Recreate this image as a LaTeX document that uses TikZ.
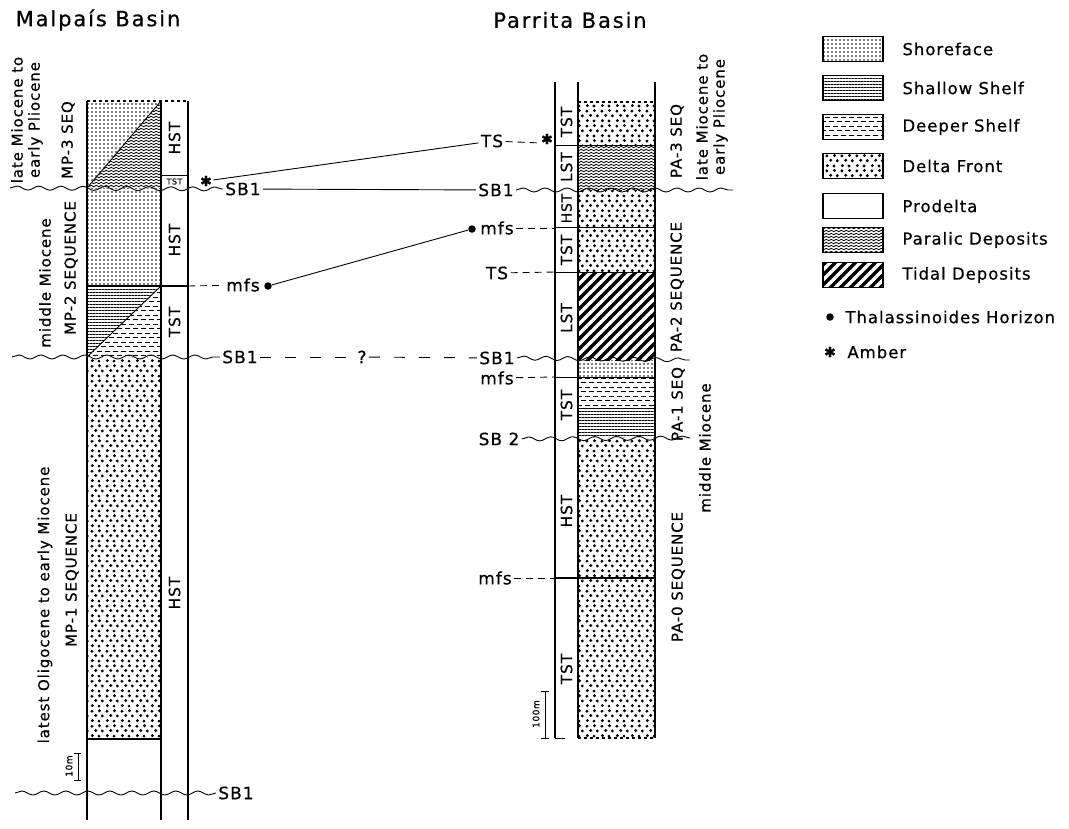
\documentclass[tikz,border=0pt]{standalone}
\usepackage{fontspec}
\setmainfont{DejaVu Sans}[LetterSpace=6, FakeBold=0.6]
\newfontfamily\ttlfont{DejaVu Sans}[LetterSpace=9, FakeBold=0.6]
\usetikzlibrary{patterns.meta,decorations.pathmorphing}

\tikzdeclarepattern{
	name=shoreface,
	type=uncolored,
	bounding box={(-1pt,-1pt) and (3pt,3pt)},
	tile size={(4pt,4pt)},
	code={\fill (0pt,0pt) circle (0.9pt);}
}
\tikzdeclarepattern{
	name=shallowshelf,
	type=uncolored,
	bounding box={(0pt,-0.6pt) and (3pt,2.6pt)},
	tile size={(3pt,3.2pt)},
	code={\draw[line width=0.8pt] (-0.5pt,0pt) -- (3.5pt,0pt);}
}
\tikzdeclarepattern{
	name=deepershelf,
	type=uncolored,
	bounding box={(0pt,-1pt) and (8pt,8pt)},
	tile size={(8pt,9pt)},
	code={\draw[line width=0.9pt] (0.5pt,0pt) -- (5.5pt,0pt);
		\draw[line width=0.9pt] (4.5pt,4.5pt) -- (8pt,4.5pt);
		\draw[line width=0.9pt] (0pt,4.5pt) -- (1.5pt,4.5pt);}
}
\tikzdeclarepattern{
	name=deltafront,
	type=uncolored,
	bounding box={(0pt,0pt) and (15pt,15pt)},
	tile size={(15pt,15pt)},
	code={\fill (2.5pt,2.5pt) circle (1.7pt);
		\fill (9.5pt,2pt) circle (1.7pt);
		\fill (13pt,7.5pt) circle (1.7pt);
		\fill (6pt,8pt) circle (1.7pt);
		\fill (2pt,12.5pt) circle (1.7pt);
		\fill (10pt,13pt) circle (1.7pt);}
}
\tikzdeclarepattern{
	name=paralic,
	type=uncolored,
	bounding box={(0pt,-1.5pt) and (5pt,1.5pt)},
	tile size={(5pt,3pt)},
	code={\draw[line width=0.8pt] (0pt,0pt) sin (1.25pt,0.7pt) cos (2.5pt,0pt) sin (3.75pt,-0.7pt) cos (5pt,0pt);}
}
\tikzdeclarepattern{
	name=tidal,
	type=uncolored,
	bounding box={(-2pt,-2pt) and (12pt,12pt)},
	tile size={(10pt,10pt)},
	code={\draw[line width=3.2pt] (-2pt,-2pt) -- (12pt,12pt);}
}

\tikzset{
	ttl/.style={font=\ttlfont\fontsize{21}{23}\selectfont, inner sep=0pt},
	lbl/.style={font=\fontsize{17}{19}\selectfont, inner sep=2pt},
	tract/.style={font=\fontsize{15.5}{17}\selectfont, rotate=90, inner sep=0pt},
	seq/.style={font=\fontsize{15}{17}\selectfont, rotate=90, align=center, inner sep=0pt},
	legbox/.style={draw, line width=1.5pt, minimum width=60pt, minimum height=25pt, inner sep=0pt},
	legtxt/.style={anchor=west, font=\fontsize{16.5}{18}\selectfont, inner sep=0pt},
	starmark/.style={font=\fontsize{14}{15}\selectfont, inner sep=1pt},
	dotmark/.style={circle, fill, inner sep=0pt, minimum size=7.5pt},
	sbline/.style={decorate, decoration={snake, segment length=22pt, amplitude=2pt}},
	tieline/.style={dash pattern=on 7pt off 5pt},
	longtie/.style={dash pattern=on 11pt off 14pt},
	colline/.style={line width=1.2pt},
}

\begin{document}
\begin{tikzpicture}[x=1pt, y=-1pt, line width=0.9pt]
	\useasboundingbox (0,0) rectangle (1069,828);

	\node[ttl] (malpais) at (98,20) {Malpaís Basin};
	\node[ttl] (parrita) at (570,20) {Parrita Basin};

	\fill[pattern=shoreface] (87,101) -- (161,101) -- (87,188) -- cycle;
	\fill[pattern=paralic] (161,101) -- (161,188) -- (87,188) -- cycle;
	\fill[pattern=shoreface] (87,188) rectangle (161,286);
	\fill[pattern=shallowshelf] (87,286) -- (161,286) -- (87,357) -- cycle;
	\fill[pattern=deepershelf] (161,286) -- (161,357) -- (87,357) -- cycle;
	\fill[pattern=deltafront] (87,357) rectangle (161,739);

	\draw[colline] (87,101) -- (87,820);
	\draw[colline] (161,101) -- (161,820);
	\draw[colline] (188,101) -- (188,820);
	\draw[colline, dashed] (87,101) -- (188,101);
	\draw (87,188) -- (161,101);
	\draw (87,357) -- (161,286);
	\draw[line width=1.4pt] (87,286) -- (188,286);
	\draw (161,175) -- (188,175);
	\draw[line width=1.3pt] (87,739) -- (161,739);

	\node[tract] (hstA) at (174.5,138) {HST};
	\node[font=\fontsize{8}{9}\selectfont, inner sep=0pt] (tstA) at (174.5,181.5) {TST};
	\node[tract] (hstB) at (174.5,240) {HST};
	\node[tract] (tstB) at (174.5,322) {TST};
	\node[tract] (hstC) at (174.5,593) {HST};

	\node[seq] (ageA) at (27,120) {late Miocene to\\early Pliocene};
	\node[seq] (mp3) at (68,140) {MP-3 SEQ};
	\node[seq] (ageB) at (45,283) {middle Miocene};
	\node[seq] (mp2) at (71,268) {MP-2 SEQUENCE};
	\node[seq] (ageC) at (45,605) {latest Oligocene to early Miocene};
	\node[seq] (mp1) at (72,580) {MP-1 SEQUENCE};

	\draw (78,753) -- (78,780);
	\draw (74,753) -- (81,753);
	\draw (74,780) -- (81,780);
	\node[font=\fontsize{9}{10}\selectfont, rotate=90, inner sep=0pt] (tenm) at (69,766) {10m};

	\fill[pattern=deltafront] (578,102) rectangle (655,145);
	\fill[pattern=paralic] (578,145) rectangle (655,190);
	\fill[pattern=deltafront] (578,190) rectangle (655,272);
	\fill[pattern=tidal] (578,272) rectangle (655,360);
	\fill[pattern=shoreface] (578,360) rectangle (655,377);
	\fill[pattern=deepershelf] (578,377) rectangle (655,408);
	\fill[pattern=shallowshelf] (578,408) rectangle (655,437);
	\fill[pattern=deltafront] (578,437) rectangle (655,738);

	\draw[colline] (555,82) -- (555,738);
	\draw[colline] (578,82) -- (578,738);
	\draw[colline] (655,82) -- (655,738);
	\draw[colline, dashed] (578,102) -- (655,102);
	\draw[colline, dashed] (578,738) -- (655,738);
	\draw (555,738) -- (565,738);
	\draw (555,145) -- (655,145);
	\draw (555,227) -- (655,227);
	\draw (555,272) -- (655,272);
	\draw (555,377) -- (655,377);
	\draw (578,408) -- (655,408);
	\draw[line width=1.3pt] (555,578) -- (655,578);

	\node[tract] (tstC) at (566.5,122) {TST};
	\node[tract] (lstA) at (566.5,167) {LST};
	\node[tract, font=\fontsize{14}{15}\selectfont] (hstD) at (566.5,208.5) {HST};
	\node[tract] (tstD) at (566.5,250) {TST};
	\node[tract] (lstB) at (566.5,318) {LST};
	\node[tract] (tstE) at (566.5,405) {TST};
	\node[tract] (hstE) at (566.5,511) {HST};
	\node[tract] (tstF) at (566.5,669) {TST};

	\node[seq] (pa3) at (677,141) {PA-3 SEQ};
	\node[seq] (ageD) at (712,117) {late Miocene to\\early Pliocene};
	\node[seq] (pa2) at (677,287) {PA-2 SEQUENCE};
	\node[seq] (pa1) at (678,404) {PA-1 SEQ};
	\node[seq] (ageE) at (705,448) {middle Miocene};
	\node[seq] (pa0) at (678,577) {PA-0 SEQUENCE};

	\draw (545,691) -- (545,738);
	\draw (541,691) -- (549,691);
	\draw (541,738) -- (549,738);
	\node[font=\fontsize{9}{10}\selectfont, rotate=90, inner sep=0pt] (hundredm) at (536,714) {100m};

	\node[lbl] (sbA) at (243,189) {SB1};
	\node[starmark] (amberA) at (206,181) {✱};
	\node[lbl] (mfsA) at (243,285) {mfs};
	\node[dotmark] (thalA) at (268,286) {};
	\node[lbl] (sbB) at (240,357) {SB1};
	\node[lbl] (qmark) at (362,357) {?};
	\node[lbl] (sbC) at (236,793) {SB1};

	\node[lbl] (tsA) at (492,141) {TS};
	\node[starmark] (amberB) at (547,139) {✱};
	\node[lbl] (sbD) at (496,190) {SB1};
	\node[lbl] (mfsB) at (497,228) {mfs};
	\node[dotmark] (thalB) at (472,229) {};
	\node[lbl] (tsB) at (497,273) {TS};
	\node[lbl] (sbE) at (497,358) {SB1};
	\node[lbl] (mfsC) at (497,378) {mfs};
	\node[lbl] (sbF) at (499,439) {SB 2};
	\node[lbl] (mfsD) at (495,578) {mfs};

	\coordinate (mfsAtie) at (188,286);
	\coordinate (tsAtie) at (541,143);
	\coordinate (mfsBtie) at (555,228);
	\coordinate (tsBtie) at (555,272);
	\coordinate (mfsCtie) at (555,377);
	\coordinate (mfsDtie) at (555,578);
	\coordinate (sbAstart) at (10,188);
	\coordinate (sbBstart) at (12,357);
	\coordinate (sbCstart) at (15,793);
	\coordinate (sbDend) at (733,190);
	\coordinate (sbEend) at (690,360);
	\coordinate (sbFend) at (690,438);

	\draw[sbline] (sbAstart) -- (sbA.west);
	\draw[sbline] (sbBstart) -- (sbB.west);
	\draw[sbline] (sbCstart) -- (sbC.west);
	\draw[sbline] (sbD.east) -- (sbDend);
	\draw[sbline] (sbE.east) -- (sbEend);
	\draw[sbline] (sbF.east) -- (sbFend);

	\draw (sbA) -- (sbD);
	\draw (amberA) -- (tsA);
	\draw (thalA) -- (thalB);
	\draw[tieline] (mfsAtie) -- (mfsA);
	\draw[longtie] (sbB) -- (qmark);
	\draw[longtie] (qmark) -- (sbE);
	\draw[tieline] (tsA) -- (tsAtie);
	\draw[tieline] (mfsB) -- (mfsBtie);
	\draw[tieline] (tsB) -- (tsBtie);
	\draw[tieline] (mfsC) -- (mfsCtie);
	\draw[tieline] (mfsD) -- (mfsDtie);

	\node[legbox, pattern=shoreface] (legA) at (853,49) {};
	\node[legtxt] (legAt) at (902,49) {Shoreface};
	\node[legbox, pattern=shallowshelf] (legB) at (853,88) {};
	\node[legtxt] (legBt) at (902,88) {Shallow Shelf};
	\node[legbox, pattern=deepershelf] (legC) at (853,127) {};
	\node[legtxt] (legCt) at (902,127) {Deeper Shelf};
	\node[legbox, pattern=deltafront] (legD) at (853,166) {};
	\node[legtxt] (legDt) at (902,166) {Delta Front};
	\node[legbox] (legE) at (853,206) {};
	\node[legtxt] (legEt) at (902,206) {Prodelta};
	\node[legbox, pattern=paralic] (legF) at (853,240) {};
	\node[legtxt] (legFt) at (902,240) {Paralic Deposits};
	\node[legbox, pattern=tidal] (legG) at (853,275) {};
	\node[legtxt] (legGt) at (902,275) {Tidal Deposits};
	\node[dotmark] (legH) at (830,317) {};
	\node[legtxt] (legHt) at (845,317) {Thalassinoides Horizon};
	\node[starmark] (legI) at (830,352) {✱};
	\node[legtxt] (legIt) at (847,352) {Amber};
\end{tikzpicture}
\end{document}
